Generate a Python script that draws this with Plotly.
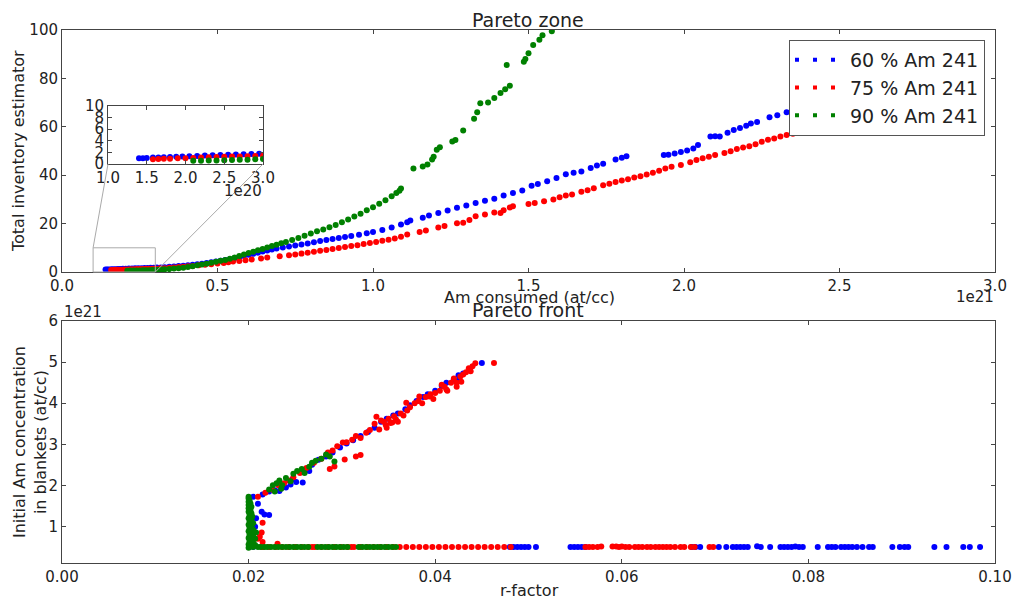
import plotly.graph_objects as go

# ---------------- DATA ----------------
series_names = ["60 % Am 241", "75 % Am 241", "90 % Am 241"]
series_colors = ["#0000ff", "#ff0000", "#008000"]

# Pareto zone: (Am consumed [1e21 at/cc], total inventory estimator)
zone_60 = [
    (0.140, 1.00), (0.145, 1.00), (0.150, 1.05), (0.158, 1.10), (0.165, 1.12), (0.172, 1.15), (0.180, 1.20),
    (0.188, 1.25), (0.196, 1.30), (0.205, 1.35), (0.215, 1.40), (0.225, 1.45), (0.235, 1.50), (0.245, 1.55),
    (0.255, 1.60), (0.265, 1.62), (0.275, 1.68), (0.285, 1.72), (0.295, 1.78), (0.305, 1.82), (0.318, 1.90),
    (0.330, 2.00), (0.345, 2.15), (0.360, 2.30), (0.375, 2.45), (0.390, 2.60), (0.405, 2.80), (0.420, 3.00),
    (0.435, 3.20), (0.450, 3.45), (0.465, 3.70), (0.480, 4.00), (0.495, 4.30), (0.510, 4.60), (0.525, 4.95),
    (0.540, 5.30), (0.555, 5.70), (0.570, 6.10), (0.585, 6.60), (0.600, 7.10), (0.615, 7.50), (0.630, 8.00),
    (0.645, 8.50), (0.660, 8.90), (0.675, 9.30), (0.690, 9.70), (0.710, 10.1), (0.730, 10.5), (0.750, 11.0),
    (0.770, 11.4), (0.790, 11.8), (0.810, 12.3), (0.830, 12.8), (0.850, 13.2), (0.870, 13.6), (0.890, 14.1),
    (0.910, 14.5), (0.930, 14.9), (0.955, 15.4), (0.980, 16.0), (1.000, 16.5), (1.030, 17.4), (1.060, 18.4),
    (1.090, 19.6), (1.110, 20.6), (1.120, 21.3), (1.160, 22.4), (1.180, 23.3), (1.210, 24.4), (1.240, 25.4),
    (1.270, 26.6), (1.300, 27.5), (1.330, 28.5), (1.360, 29.4), (1.390, 30.3), (1.420, 31.6), (1.450, 32.6),
    (1.480, 33.7), (1.510, 35.6), (1.530, 36.4), (1.560, 37.5), (1.590, 38.8), (1.620, 40.4), (1.645, 41.0),
    (1.670, 41.5), (1.700, 43.0), (1.720, 44.0), (1.740, 44.7), (1.780, 46.5), (1.800, 47.2), (1.815, 47.8),
    (1.935, 48.3), (1.950, 48.5), (1.970, 49.0), (1.990, 49.6), (2.010, 50.2), (2.030, 51.0), (2.045, 52.5),
    (2.085, 56.0), (2.100, 56.1), (2.115, 56.0), (2.140, 57.5), (2.160, 58.7), (2.180, 59.5), (2.200, 60.4),
    (2.215, 61.4), (2.235, 62.0), (2.275, 63.9), (2.300, 64.8), (2.330, 66.0), (2.360, 67.0), (2.400, 68.5),
    (2.450, 70.0),
]
zone_75 = [
    (0.158, 0.80), (0.165, 0.85), (0.172, 0.90), (0.180, 0.92), (0.190, 0.97), (0.200, 1.00), (0.210, 1.05),
    (0.220, 1.10), (0.230, 1.15), (0.240, 1.20), (0.250, 1.25), (0.260, 1.28), (0.270, 1.30), (0.280, 1.35),
    (0.290, 1.38), (0.300, 1.42), (0.315, 1.50), (0.330, 1.60), (0.345, 1.75), (0.360, 1.90), (0.375, 2.05),
    (0.390, 2.20), (0.405, 2.35), (0.420, 2.50), (0.440, 2.75), (0.460, 3.00), (0.480, 3.25), (0.500, 3.50),
    (0.520, 3.75), (0.535, 4.00), (0.550, 4.30), (0.570, 4.50), (0.590, 4.90), (0.610, 5.20), (0.640, 5.60),
    (0.660, 6.00), (0.700, 6.50), (0.730, 6.90), (0.750, 7.20), (0.770, 7.60), (0.790, 8.00), (0.810, 8.40),
    (0.830, 8.80), (0.850, 9.10), (0.870, 9.50), (0.890, 9.90), (0.910, 10.3), (0.930, 10.7), (0.950, 11.1),
    (0.970, 11.6), (0.990, 12.0), (1.010, 12.4), (1.030, 12.9), (1.050, 13.3), (1.070, 13.8), (1.090, 14.6),
    (1.110, 15.5), (1.150, 16.5), (1.170, 17.2), (1.210, 18.4), (1.230, 19.0), (1.270, 20.1), (1.290, 20.3),
    (1.310, 21.5), (1.330, 23.0), (1.360, 23.8), (1.390, 24.6), (1.410, 24.4), (1.420, 25.5), (1.440, 26.7),
    (1.450, 27.2), (1.500, 28.1), (1.520, 28.5), (1.550, 29.2), (1.580, 30.0), (1.600, 30.9), (1.620, 31.6),
    (1.640, 32.0), (1.670, 33.2), (1.690, 33.8), (1.710, 34.6), (1.740, 35.8), (1.760, 36.5), (1.780, 37.2),
    (1.800, 37.8), (1.820, 38.3), (1.840, 39.0), (1.860, 39.6), (1.880, 40.3), (1.900, 41.0), (1.920, 41.8),
    (1.940, 42.8), (1.960, 43.5), (1.990, 44.2), (2.020, 45.4), (2.040, 46.3), (2.060, 47.0), (2.080, 47.6),
    (2.100, 48.3), (2.130, 49.2), (2.150, 49.9), (2.170, 50.8), (2.190, 51.4), (2.210, 52.0), (2.230, 52.8),
    (2.250, 53.8), (2.270, 54.6), (2.290, 55.2), (2.310, 56.0), (2.330, 56.6), (2.350, 57.1), (2.370, 57.8),
    (2.400, 58.5), (2.420, 59.2), (2.440, 59.7), (2.460, 60.2),
]
zone_90 = [
    (0.210, 0.55), (0.220, 0.58), (0.230, 0.60), (0.240, 0.62), (0.250, 0.65), (0.260, 0.68), (0.270, 0.72),
    (0.280, 0.75), (0.290, 0.80), (0.300, 0.85), (0.310, 0.90), (0.320, 1.00), (0.330, 1.10), (0.345, 1.20),
    (0.360, 1.40), (0.375, 1.60), (0.390, 1.80), (0.405, 2.10), (0.420, 2.40), (0.435, 2.75), (0.450, 3.10),
    (0.465, 3.45), (0.480, 3.80), (0.495, 4.20), (0.510, 4.60), (0.525, 5.00), (0.540, 5.50), (0.555, 6.00),
    (0.570, 6.60), (0.585, 7.20), (0.600, 7.80), (0.615, 8.40), (0.630, 9.00), (0.645, 9.50), (0.660, 10.1),
    (0.675, 10.7), (0.690, 11.3), (0.705, 11.9), (0.720, 12.4), (0.740, 13.2), (0.760, 14.1), (0.780, 15.0),
    (0.800, 15.9), (0.820, 16.8), (0.840, 17.6), (0.860, 18.5), (0.880, 19.4), (0.900, 20.6), (0.920, 21.7),
    (0.940, 22.9), (0.960, 24.1), (0.980, 25.5), (1.000, 26.8), (1.020, 28.2), (1.040, 29.7), (1.060, 31.3),
    (1.075, 32.6), (1.085, 33.6), (1.090, 34.5), (1.130, 42.8), (1.160, 43.6), (1.175, 44.4), (1.190, 46.5),
    (1.195, 47.6), (1.205, 50.5), (1.215, 51.5), (1.255, 53.9), (1.265, 54.5), (1.290, 58.5), (1.325, 63.3),
    (1.335, 66.0), (1.345, 69.7), (1.370, 70.0), (1.390, 71.9), (1.410, 74.0), (1.425, 75.5), (1.440, 77.0),
    (1.430, 85.5), (1.485, 86.9), (1.490, 88.0), (1.500, 90.4), (1.515, 93.8), (1.535, 96.0), (1.545, 97.8),
    (1.575, 99.5),
]

# Pareto front: (r-factor, initial Am concentration in blankets [1e21 at/cc])
front_60 = [
    (0.0202, 0.60), (0.0205, 0.80), (0.0207, 0.99), (0.0208, 1.20), (0.0214, 1.36), (0.0217, 1.29),
    (0.0222, 1.28), (0.0210, 1.55), (0.0205, 1.72), (0.0215, 1.78), (0.0222, 1.85), (0.0228, 1.88),
    (0.0233, 1.86), (0.0240, 1.95), (0.0245, 2.02), (0.0251, 2.08), (0.0258, 2.07), (0.0262, 2.40),
    (0.0268, 2.50), (0.0275, 2.62), (0.0283, 2.70), (0.0290, 2.80), (0.0298, 2.92), (0.0305, 3.02),
    (0.0312, 3.10), (0.0320, 3.20), (0.0328, 3.30), (0.0335, 3.40), (0.0342, 3.55), (0.0348, 3.62),
    (0.0355, 3.70), (0.0360, 3.75), (0.0368, 3.85), (0.0373, 3.95), (0.0380, 4.05), (0.0387, 4.15),
    (0.0392, 4.22), (0.0400, 4.30), (0.0407, 4.42), (0.0412, 4.50), (0.0420, 4.58), (0.0425, 4.68),
    (0.0430, 4.72), (0.0426, 4.56), (0.0450, 4.98), (0.0236, 2.02), (0.0265, 2.35), (0.0247, 2.15),
    (0.0205, 0.50), (0.0215, 0.50), (0.0480, 0.50), (0.0484, 0.50), (0.0488, 0.50), (0.0492, 0.50),
    (0.0496, 0.50), (0.0500, 0.50), (0.0508, 0.50), (0.0545, 0.50), (0.0549, 0.50), (0.0553, 0.50),
    (0.0557, 0.50), (0.0561, 0.50), (0.0675, 0.50), (0.0679, 0.50), (0.0684, 0.50), (0.0704, 0.50),
    (0.0712, 0.50), (0.0719, 0.50), (0.0723, 0.50), (0.0727, 0.50), (0.0731, 0.50), (0.0735, 0.50),
    (0.0745, 0.52), (0.0749, 0.50), (0.0759, 0.50), (0.0770, 0.50), (0.0774, 0.50), (0.0778, 0.50),
    (0.0782, 0.50), (0.0786, 0.51), (0.0790, 0.50), (0.0794, 0.50), (0.0810, 0.50), (0.0821, 0.50),
    (0.0825, 0.50), (0.0829, 0.50), (0.0835, 0.50), (0.0839, 0.50), (0.0843, 0.50), (0.0847, 0.50),
    (0.0852, 0.50), (0.0858, 0.50), (0.0865, 0.50), (0.0869, 0.50), (0.0890, 0.50), (0.0898, 0.50),
    (0.0903, 0.50), (0.0907, 0.50), (0.0935, 0.50), (0.0948, 0.50), (0.0966, 0.50), (0.0973, 0.50),
    (0.0984, 0.50),
]
front_75 = [
    (0.0210, 0.70), (0.0212, 0.75), (0.0215, 1.09), (0.0214, 0.85), (0.0214, 0.51), (0.0215, 0.62),
    (0.0231, 0.58), (0.0210, 1.72), (0.0218, 1.82), (0.0225, 1.90), (0.0232, 2.00), (0.0238, 2.05),
    (0.0243, 2.12), (0.0248, 2.20), (0.0255, 2.30), (0.0262, 2.42), (0.0270, 2.55), (0.0278, 2.65),
    (0.0285, 2.80), (0.0290, 2.85), (0.0295, 2.95), (0.0301, 3.04), (0.0305, 3.05), (0.0311, 3.11),
    (0.0315, 3.20), (0.0320, 3.15), (0.0326, 3.28), (0.0330, 3.35), (0.0335, 3.50), (0.0337, 3.67),
    (0.0340, 3.36), (0.0342, 3.58), (0.0345, 3.55), (0.0347, 3.47), (0.0348, 3.40), (0.0350, 3.62),
    (0.0352, 3.52), (0.0354, 3.53), (0.0356, 3.68), (0.0358, 3.60), (0.0360, 3.55), (0.0363, 3.75),
    (0.0366, 3.70), (0.0369, 4.01), (0.0370, 3.82), (0.0373, 3.90), (0.0378, 4.00), (0.0382, 4.05),
    (0.0383, 4.16), (0.0386, 4.00), (0.0390, 4.15), (0.0394, 4.16), (0.0395, 4.22), (0.0398, 4.10),
    (0.0400, 4.25), (0.0405, 4.30), (0.0407, 4.45), (0.0410, 4.40), (0.0412, 4.33), (0.0413, 4.30),
    (0.0417, 4.50), (0.0420, 4.60), (0.0423, 4.40), (0.0423, 4.50), (0.0427, 4.65), (0.0428, 4.52),
    (0.0430, 4.70), (0.0433, 4.75), (0.0436, 4.85), (0.0438, 4.78), (0.0440, 4.90), (0.0443, 4.97),
    (0.0463, 4.98),
    (0.0287, 2.40), (0.0292, 2.46), (0.0303, 2.63), (0.0315, 2.70), (0.0320, 2.74),
    (0.0215, 0.50), (0.0222, 0.50), (0.0229, 0.50), (0.0236, 0.50), (0.0243, 0.50), (0.0250, 0.50),
    (0.0257, 0.50), (0.0264, 0.50), (0.0268, 0.50), (0.0271, 0.50), (0.0278, 0.50), (0.0285, 0.50),
    (0.0292, 0.50), (0.0299, 0.50), (0.0306, 0.50), (0.0310, 0.50), (0.0313, 0.50), (0.0320, 0.50),
    (0.0327, 0.50), (0.0334, 0.50), (0.0341, 0.50), (0.0348, 0.50), (0.0355, 0.50), (0.0362, 0.50),
    (0.0369, 0.50), (0.0376, 0.50), (0.0383, 0.50), (0.0390, 0.50), (0.0397, 0.50), (0.0404, 0.50),
    (0.0411, 0.50), (0.0418, 0.50), (0.0425, 0.50), (0.0432, 0.50), (0.0439, 0.50), (0.0446, 0.50),
    (0.0453, 0.50), (0.0460, 0.50), (0.0467, 0.50), (0.0474, 0.50), (0.0481, 0.50),
    (0.0561, 0.50), (0.0565, 0.50), (0.0569, 0.50), (0.0574, 0.50), (0.0578, 0.51), (0.0590, 0.51),
    (0.0594, 0.51), (0.0597, 0.50), (0.0600, 0.51), (0.0604, 0.50), (0.0608, 0.50), (0.0614, 0.50),
    (0.0618, 0.50), (0.0622, 0.50), (0.0627, 0.50), (0.0631, 0.50), (0.0636, 0.50), (0.0640, 0.50),
    (0.0644, 0.50), (0.0648, 0.50), (0.0652, 0.50), (0.0657, 0.50), (0.0663, 0.50), (0.0667, 0.50),
    (0.0674, 0.50), (0.0678, 0.50), (0.0694, 0.50), (0.0698, 0.50),
]
front_90 = [
    (0.0200, 0.48), (0.0203, 0.52), (0.0200, 0.56), (0.0205, 0.60), (0.0201, 0.64), (0.0203, 0.68),
    (0.0200, 0.72), (0.0205, 0.76), (0.0201, 0.80), (0.0203, 0.84), (0.0200, 0.88), (0.0205, 0.92),
    (0.0201, 0.96), (0.0203, 1.00), (0.0200, 1.04), (0.0205, 1.08), (0.0201, 1.12), (0.0203, 1.16),
    (0.0200, 1.20), (0.0204, 1.24), (0.0201, 1.28), (0.0203, 1.32), (0.0200, 1.36), (0.0202, 1.40),
    (0.0200, 1.44), (0.0203, 1.48), (0.0200, 1.52), (0.0202, 1.56), (0.0200, 1.60), (0.0201, 1.64),
    (0.0200, 1.68), (0.0200, 1.72), (0.0207, 0.55), (0.0207, 0.70), (0.0208, 0.85),
    (0.0222, 1.90), (0.0226, 2.00), (0.0228, 1.85), (0.0230, 2.05), (0.0233, 2.12), (0.0235, 1.92),
    (0.0236, 2.00), (0.0240, 2.18), (0.0245, 2.10), (0.0248, 2.28), (0.0252, 2.35), (0.0257, 2.40),
    (0.0260, 2.30), (0.0265, 2.45), (0.0268, 2.55), (0.0272, 2.60), (0.0278, 2.65), (0.0283, 2.75),
    (0.0287, 2.70), (0.0292, 2.58),
    (0.0205, 0.50), (0.0210, 0.50), (0.0213, 0.50), (0.0217, 0.50), (0.0220, 0.50), (0.0224, 0.50),
    (0.0228, 0.50), (0.0232, 0.50), (0.0236, 0.50), (0.0240, 0.50), (0.0244, 0.50), (0.0248, 0.50),
    (0.0252, 0.50), (0.0256, 0.50), (0.0260, 0.50), (0.0264, 0.50), (0.0274, 0.50), (0.0278, 0.50),
    (0.0282, 0.50), (0.0286, 0.50), (0.0290, 0.50), (0.0294, 0.50), (0.0298, 0.50), (0.0302, 0.50),
    (0.0306, 0.50), (0.0318, 0.50), (0.0322, 0.50), (0.0326, 0.50), (0.0330, 0.50), (0.0334, 0.50),
    (0.0338, 0.50), (0.0342, 0.50), (0.0346, 0.50), (0.0350, 0.50), (0.0354, 0.50), (0.0358, 0.50),
]

zone_x_ticks = [0.0, 0.5, 1.0, 1.5, 2.0, 2.5, 3.0]
zone_x_labels = ["0.0", "0.5", "1.0", "1.5", "2.0", "2.5", "3.0"]
zone_y_ticks = [0, 20, 40, 60, 80, 100]
front_x_ticks = [0.0, 0.02, 0.04, 0.06, 0.08, 0.10]
front_x_labels = ["0.00", "0.02", "0.04", "0.06", "0.08", "0.10"]
front_y_ticks = [1, 2, 3, 4, 5, 6]
inset_x_ticks = [1.0, 1.5, 2.0, 2.5, 3.0]
inset_x_labels = ["1.0", "1.5", "2.0", "2.5", "3.0"]
inset_y_ticks = [0, 2, 4, 6, 8, 10]

zone_x_range = [0.0, 3.0]
zone_y_range = [0, 100]
front_x_range = [0.0, 0.10]
front_y_range = [0.11, 6.0]
inset_x_range = [1.0, 3.0]   # in 1e20
inset_y_range = [0, 10]

# ---------------- LAYOUT ----------------
W, H = 1016, 599
FONT = "DejaVu Sans"
MSIZE = 6


def pxx(p):
    return p / W


def pxy(p):
    return 1 - p / H


main_dom_x = [pxx(62), pxx(995)]
top_dom_y = [pxy(272), pxy(30)]
bot_dom_y = [pxy(563), pxy(321)]
inset_dom_x = [pxx(108), pxx(263)]
inset_dom_y = [pxy(164), pxy(106)]

fig = go.Figure()

zone_sets = [zone_60, zone_75, zone_90]
front_sets = [front_60, front_75, front_90]

for data, color in zip(zone_sets, series_colors):
    xs, ys = zip(*data)
    fig.add_trace(go.Scatter(x=list(xs), y=list(ys), mode="markers", xaxis="x", yaxis="y",
                             marker=dict(size=MSIZE, color=color), showlegend=False))
for data, color in zip(zone_sets, series_colors):
    xs, ys = zip(*data)
    fig.add_trace(go.Scatter(x=[v * 10 for v in xs], y=list(ys), mode="markers", xaxis="x3", yaxis="y3",
                             marker=dict(size=MSIZE, color=color), showlegend=False))
for data, color in zip(front_sets, series_colors):
    xs, ys = zip(*data)
    fig.add_trace(go.Scatter(x=list(xs), y=list(ys), mode="markers", xaxis="x2", yaxis="y2",
                             marker=dict(size=MSIZE, color=color), showlegend=False))
# legend entries (dotted symbol like matplotlib's 3-dot scatter legend)
for name, color in zip(series_names, series_colors):
    fig.add_trace(go.Scatter(x=[None], y=[None], mode="lines", xaxis="x", yaxis="y", name=name,
                             line=dict(color=color, width=4, dash="4px,14px")))

axis_style = dict(showline=True, linecolor="#444", linewidth=1, mirror="allticks", ticks="inside",
                  ticklen=4, tickcolor="#444", showgrid=False, zeroline=False, automargin=False,
                  tickfont=dict(family=FONT, size=15, color="#222"))

fig.update_layout(
    width=W, height=H, autosize=False,
    margin=dict(l=0, r=0, t=0, b=0, autoexpand=False),
    paper_bgcolor="white", plot_bgcolor="white",
    font=dict(family=FONT, color="#222"),
    xaxis=dict(axis_style, domain=main_dom_x, anchor="y", range=zone_x_range,
               tickvals=zone_x_ticks, ticktext=zone_x_labels),
    yaxis=dict(axis_style, domain=top_dom_y, anchor="x", range=zone_y_range, tickvals=zone_y_ticks),
    xaxis2=dict(axis_style, domain=main_dom_x, anchor="y2", range=front_x_range,
                tickvals=front_x_ticks, ticktext=front_x_labels),
    yaxis2=dict(axis_style, domain=bot_dom_y, anchor="x2", range=front_y_range, tickvals=front_y_ticks),
    xaxis3=dict(axis_style, domain=inset_dom_x, anchor="y3", range=inset_x_range,
                tickvals=inset_x_ticks, ticktext=inset_x_labels),
    yaxis3=dict(axis_style, domain=inset_dom_y, anchor="x3", range=inset_y_range, tickvals=inset_y_ticks),
    legend=dict(x=pxx(789), y=pxy(40), xanchor="left", yanchor="top", bgcolor="white",
                bordercolor="#555", borderwidth=1, font=dict(family=FONT, size=19, color="#222"),
                tracegroupgap=0, itemwidth=50),
)


# inset indicator rectangle and connectors
def to_paper(xv, yv):
    xp = main_dom_x[0] + (xv - zone_x_range[0]) / (zone_x_range[1] - zone_x_range[0]) * (main_dom_x[1] - main_dom_x[0])
    yp = top_dom_y[0] + (yv - zone_y_range[0]) / (zone_y_range[1] - zone_y_range[0]) * (top_dom_y[1] - top_dom_y[0])
    return xp, yp


rx0, ry0 = to_paper(inset_x_range[0] / 10, inset_y_range[0])
rx1, ry1 = to_paper(inset_x_range[1] / 10, inset_y_range[1])
gray = "#aaaaaa"
fig.add_shape(type="rect", xref="paper", yref="paper", x0=rx0, y0=ry0, x1=rx1, y1=ry1,
              line=dict(color=gray, width=1))
fig.add_shape(type="line", xref="paper", yref="paper", x0=inset_dom_x[0], y0=inset_dom_y[0], x1=rx0, y1=ry1,
              line=dict(color=gray, width=1))
fig.add_shape(type="line", xref="paper", yref="paper", x0=inset_dom_x[1], y0=inset_dom_y[0], x1=rx1, y1=ry0,
              line=dict(color=gray, width=1))


def label(text, x, y, size=16, xanchor="center", yanchor="middle", angle=0):
    fig.add_annotation(text=text, x=pxx(x), y=pxy(y), xref="paper", yref="paper", showarrow=False,
                       xanchor=xanchor, yanchor=yanchor, textangle=angle,
                       font=dict(family=FONT, size=size, color="#222"))


label("Pareto zone", 528, 20, size=19)
label("Am consumed (at/cc)", 529, 297, size=16)
label("1e21", 996, 297, size=15, xanchor="right")
label("Total inventory estimator", 18, 151, size=16, angle=-90)
label("Pareto front", 528, 310, size=19)
label("r-factor", 529, 590, size=16)
label("1e21", 62, 312, size=15, xanchor="left")
label("Initial Am concentration<br>in blankets (at/cc)", 30, 442, size=16, angle=-90)
label("1e20", 264, 191, size=15, xanchor="right")

fig.write_html("out.html")
